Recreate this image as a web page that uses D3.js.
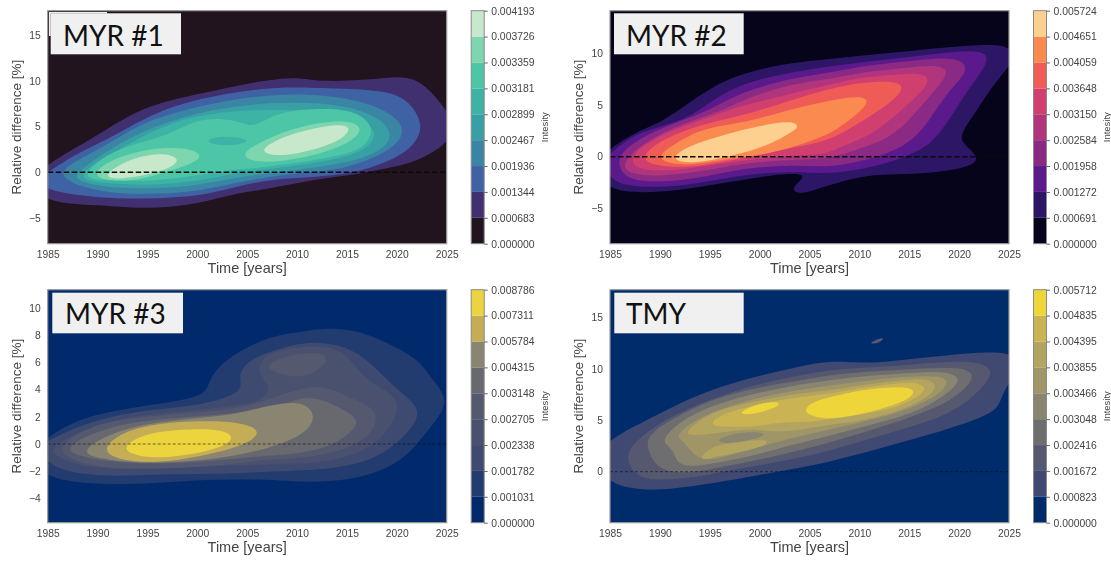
<!DOCTYPE html>
<html>
<head>
<meta charset="utf-8">
<script src="https://cdn.jsdelivr.net/npm/d3@7"></script>
<style>
  body { margin: 0; background: #fff; }
  svg { display: block; filter: blur(0.45px); }
  text { font-family: "Liberation Sans", Arial, sans-serif; }
</style>
</head>
<body>
<script>
// ---- values ----
var yearTicks = [1985, 1990, 1995, 2000, 2005, 2010, 2015, 2020, 2025];

var myr1YTicks = [-5, 0, 5, 10, 15];
var myr2YTicks = [-5, 0, 5, 10];
var myr3YTicks = [-4, -2, 0, 2, 4, 6, 8, 10];
var tmyYTicks = [0, 5, 10, 15];

var myr1Legend = ["0.000000", "0.000683", "0.001344", "0.001936", "0.002467", "0.002899", "0.003181", "0.003359", "0.003726", "0.004193"];
var myr2Legend = ["0.000000", "0.000691", "0.001272", "0.001958", "0.002584", "0.003150", "0.003648", "0.004059", "0.004651", "0.005724"];
var myr3Legend = ["0.000000", "0.001031", "0.001782", "0.002338", "0.002705", "0.003148", "0.004315", "0.005784", "0.007311", "0.008786"];
var tmyLegend = ["0.000000", "0.000823", "0.001672", "0.002416", "0.003048", "0.003466", "0.003855", "0.004395", "0.004835", "0.005712"];

// contour outlines as [year, relative difference %], band = colour band of the legend
var myr1Bands = [1, 2, 3, 4, 5, 6, 5, 7, 7, 8, 8];
var myr1Outlines = [
  [[1983,-1.2],[1985,1],[1989.4,3.6],[1993.5,6.6],[1997.5,8],[2001.5,8.9],[2007.2,10.2],[2010.5,10.4],[2012.2,9.9],[2017.2,10.1],[2020.5,10.6],[2022.2,10],[2023.5,8.8],[2025,6.7],[2026,5],[2025,3.2],[2023.5,2.1],[2021.5,1],[2018.9,.4],[2016.2,-.2],[2012.2,-.7],[2007.2,-1.8],[2003.5,-2.4],[2000.2,-3.4],[1996.9,-3.9],[1993.5,-3.9],[1990.2,-3.6],[1985,-3.4]],
  [[1985,0],[1987.7,1.9],[1990.2,3.2],[1993.6,5.2],[1994.6,5.8],[1997.6,7.3],[2001.6,8.4],[2007.3,9.3],[2010.6,9.3],[2017.3,9.1],[2020,8.6],[2021.6,7.3],[2022.7,5],[2021.7,2.9],[2020,1.6],[2017.3,.4],[2014,-.4],[2007.3,-.7],[2003.6,-1.7],[2000.3,-2.6],[1996,-2.9],[1992,-2.9],[1988.5,-2.6],[1985,-2],[1984,-.9]],
  [[1986.2,-.5],[1986.8,.7],[1990.2,2.5],[1994.3,5.4],[1998.3,6.7],[2001.6,7.6],[2007.3,8.6],[2013.3,8.5],[2018.3,7.3],[2020.8,5.2],[2020.4,3.4],[2018.3,1.8],[2014.2,.15],[2009.2,-.1],[2003.6,-1.2],[2000.3,-2.05],[1996,-2.4],[1992,-2.4],[1988.5,-1.7]],
  [[1987.5,-.6],[1988.4,.3],[1990.2,1.8],[1994.3,4.5],[1998.3,5.9],[2001.6,6.9],[2007.3,7.7],[2013.3,7.6],[2017.3,6.6],[2019.7,4.6],[2018.9,2.5],[2015.3,1],[2009.2,.15],[2003.6,-.6],[2000.3,-1.4],[1996,-1.8],[1992,-1.7],[1989.3,-1.4]],
  [[1988.2,-.6],[1989.1,.6],[1991.2,1.8],[1995.3,4.5],[1999.3,6.1],[2003.3,6.7],[2007.3,6.9],[2013.3,6.7],[2016.5,5.8],[2018.2,4.3],[2016.9,2.3],[2013.3,1.25],[2008.3,.5],[2003.6,-.1],[2000.3,-.95],[1996,-1.4],[1992,-1.3],[1989.8,-1.1]],
  [[1988.5,-.5],[1990.1,1.4],[1992.9,2.9],[1996.7,3.9],[1998.7,5.1],[2000.7,5.9],[2003.4,5.85],[2005.2,5],[2006.4,5.4],[2008.2,6.6],[2012.2,7],[2015.2,6.9],[2017.3,5.6],[2017.6,4.1],[2016.3,2.3],[2013.2,1.6],[2009.2,.9],[2005.3,.35],[2003.6,.35],[2000.3,-.3],[1996,-.95],[1992,-.95],[1990,-.85]],
  [[2000.7,3.5],[2002.4,4],[2004.2,3.8],[2005.4,3.4],[2003.7,2.9],[2001.7,3]],
  [[1989.5,-.1],[1991.1,1.2],[1993.6,2.2],[1997,2.8],[1999.7,2.5],[2000.5,1.7],[1999.4,.9],[1996.3,-.2],[1993.6,-.95],[1990.6,-.95]],
  [[2004.1,1.9],[2006.5,3.4],[2009.3,4.7],[2012.3,5.5],[2015.6,5.7],[2016.7,4.6],[2015.1,3.1],[2012.3,2],[2009,1.25],[2006,1]],
  [[1990.6,-.5],[1992,.8],[1994.6,1.9],[1997,2.1],[1998.3,1.4],[1997.4,.5],[1995,-.3],[1992,-.8]],
  [[2006.3,2.4],[2007.8,3.5],[2010.3,4.5],[2014,5.3],[2015.4,5],[2014.9,3.9],[2012.8,2.8],[2009.8,1.95],[2007.3,1.8]]
];

var myr2Bands = [1, 2, 3, 4, 5, 6, 7, 8];
var myr2Outlines = [
  [[1983,-1.2],[1985,.9],[1988.3,2.7],[1990,3.3],[1992,4.6],[1994.4,6.2],[1996.7,7.5],[2000,8.5],[2003.4,9.1],[2007,9.45],[2013.7,10.1],[2018.8,10.6],[2023.1,10.9],[2025,10.7],[2025.6,9.5],[2024.5,8.2],[2023.1,6.5],[2021.8,4.5],[2020.4,2.6],[2020.1,1.6],[2021,.8],[2022,-.15],[2021.2,-.9],[2018.8,-1.4],[2015.4,-1.7],[2012.1,-1.7],[2009.7,-2],[2006.8,-2.8],[2005,-3.4],[2003.5,-3.6],[2003.3,-2.9],[2004.4,-2.1],[2004.2,-1.6],[2001.7,-1.7],[1996.7,-2.5],[1991.7,-3.3],[1988.3,-3.5],[1985,-3.3]],
  [[1984,-.5],[1985.1,.3],[1986.7,1.7],[1989,2.7],[1992.7,3.6],[1995,5.3],[1997.4,6.7],[2000.7,7.7],[2004,8.3],[2008,8.9],[2013.7,9.5],[2018.8,10.1],[2021.8,10.3],[2023,9.8],[2022.5,8.5],[2021.1,6.8],[2019.8,4.8],[2018.1,2.3],[2016.7,.9],[2013.7,-.4],[2010.4,-1.2],[2007,-1.7],[2003.4,-1.4],[1998.4,-1.7],[1993.4,-2.7],[1989.3,-3],[1986.3,-2.8],[1985,-2]],
  [[1985.7,-.8],[1986.2,.7],[1989.7,2.7],[1994.7,4.3],[1997.4,5.9],[2001.4,7.2],[2004.7,7.8],[2008,8.3],[2010.4,8.8],[2015.4,9.3],[2018.4,9.6],[2020.5,9.3],[2020.8,8.2],[2019.4,6.8],[2017.8,4.8],[2016.4,2.6],[2014.4,.9],[2011.1,-.25],[2007,-1.1],[2003.4,-.75],[1998.4,-1.1],[1993.4,-2.2],[1989.3,-2.5],[1986.7,-2.2]],
  [[1986.2,-1.1],[1987,.4],[1990.7,2.7],[1996,4.3],[1998.7,5.7],[2002.7,6.9],[2006,7.4],[2008,7.7],[2010.4,8.2],[2014.7,8.6],[2017.4,8.9],[2018.9,8.5],[2018.5,7.4],[2016.7,5.5],[2015,3.5],[2013,1.8],[2010.4,.9],[2007,-.25],[2003.4,-.25],[1998.4,-.6],[1993.4,-1.55],[1989.7,-1.9],[1987.3,-1.7]],
  [[1987,-.3],[1988.2,1.1],[1991.4,2.7],[1995,3.8],[1998,4.9],[2000,5.3],[2003.4,6.2],[2008,7.2],[2010.4,7.7],[2014.1,8],[2016.5,8.1],[2017.1,7.3],[2015.8,5.8],[2013.7,4.1],[2011.4,2.2],[2008.7,1.2],[2007,.4],[2006,.2],[2001.7,.05],[1996.7,-.6],[1992.7,-1.2],[1989.3,-1.4],[1987.7,-1.1]],
  [[1988.1,-.3],[1989.2,1.1],[1992.7,2.7],[1996.4,3.6],[2000,4.45],[2004,5.75],[2008,6.8],[2010.4,7.2],[2013.4,7.35],[2014.6,6.8],[2013.5,5.5],[2011.4,4.1],[2008.7,2.5],[2006.7,1.5],[2003.4,.9],[2000,.2],[1996,-.6],[1992.7,-1.05],[1989.7,-.9]],
  [[1989.8,0],[1990.9,.9],[1994,2.7],[1997.4,3.15],[2000,3.7],[2004,4.8],[2008,5.65],[2010.4,5.85],[2011,5.3],[2009.8,4.1],[2007.7,2.6],[2006,1.8],[2002.7,.7],[1999.4,.05],[1995.7,-.4],[1992.7,-.84],[1990.7,-.6]],
  [[1991.1,-.15],[1992.6,.9],[1995,1.7],[1997.4,2.4],[2000,2.95],[2001.7,3.3],[2003.5,3.4],[2004,2.8],[2002.8,2.2],[2001.7,1.5],[1998.7,.4],[1995,-.4],[1992.4,-.65]]
];

var myr3Bands = [1, 2, 3, 4, 4, 5, 6, 7, 8];
var myr3Outlines = [
  [[1983,-1],[1985,.6],[1988.5,2],[1993.6,2.7],[1998.6,3.2],[2001,3.7],[2001.2,4.9],[2003,6.3],[2005.3,7.2],[2007.3,7.9],[2010.6,8.3],[2014,8.6],[2017.3,8.1],[2020.7,6.8],[2022.3,6.1],[2023.7,4.6],[2025.3,3.2],[2023.7,1.5],[2022,0],[2020.7,-1.1],[2017.3,-2.4],[2012.3,-2.9],[2007.3,-2.6],[2003.6,-2.6],[1998.6,-2.7],[1993.6,-3],[1988.5,-2.9],[1985,-2.5]],
  [[1984,-.2],[1985,.2],[1988.5,1.5],[1993.6,2.4],[1998.6,2.7],[2001.6,3.1],[2003.6,3.6],[2004.6,4.2],[2004,5.2],[2005.6,6.4],[2008.3,7],[2010.6,7.5],[2014,7.4],[2016.3,6.6],[2017.7,5.7],[2020,4],[2022.4,2.7],[2021.8,1.4],[2020,0],[2017.3,-1.3],[2013,-1.9],[2007.3,-2],[2003.6,-2.2],[1997,-2.2],[1992,-2.4],[1987.7,-2.2],[1985,-1.5]],
  [[1985.3,-.1],[1990.2,1.6],[1995.2,2.2],[2000.2,2.5],[2005.3,2.9],[2007,3.5],[2007.3,4.3],[2005.8,5.4],[2006.8,6.6],[2009.3,7.1],[2012.3,7.2],[2014.9,6.9],[2016.6,4.7],[2020,3.6],[2020.2,2.3],[2018.6,.4],[2016,-.8],[2012.3,-1.4],[2007.3,-1.5],[2000.2,-1.65],[1993.2,-1.95],[1988.2,-1.65],[1985.6,-.9]],
  [[1986,-.2],[1988.5,1],[1991.2,1.7],[1997,2.2],[2003.6,2.45],[2007.3,3.3],[2010.6,4.2],[2013,4.2],[2014.7,3.6],[2017.3,2.8],[2018.1,2.05],[2017.6,.9],[2015.6,-.3],[2010.6,-1.1],[2007.3,-1.1],[2003.6,-1.5],[1997,-1.85],[1990.3,-1.8],[1987,-1.1]],
  [[2007,5.9],[2009.3,6.6],[2012.3,6.8],[2013.3,6.2],[2011.7,5.1],[2009.3,4.85],[2007.1,5.5]],
  [[1986.8,-.4],[1988.5,.5],[1992,1.45],[1997,1.9],[2002,2.1],[2008.3,2.75],[2010.6,3.5],[2012.5,3.3],[2014.8,2.5],[2016.3,1.75],[2015.4,.8],[2013.3,-.2],[2010.3,-.7],[2007.3,-.85],[2003.6,-1.1],[1997,-1.5],[1991.2,-1.35],[1988,-.85]],
  [[1988.3,-.65],[1990.2,.4],[1993.6,1.35],[1998.6,1.85],[2003.6,2.1],[2007.3,2.9],[2010.7,3.2],[2012,2],[2010.8,.7],[2007.3,-.3],[2003.6,-.9],[1998.6,-1.35],[1993.6,-1.4],[1990.3,-1.1]],
  [[1990.2,-.45],[1992.5,.95],[1996.3,1.55],[2000.3,1.7],[2004.3,1.65],[2006.8,.9],[2004.3,-.25],[2000.3,-.9],[1996.3,-1.4],[1992.3,-1.25]],
  [[1992.5,-.2],[1994.5,.75],[1998.6,1.1],[2002.6,1.1],[2003.9,.4],[2002,-.4],[1998.3,-.9],[1995.3,-1.05],[1993.3,-.75]]
];

var tmyBands = [1, 2, 2, 3, 4, 5, 4, 6, 6, 7, 8, 8];
var tmyOutlines = [
  [[1983,1],[1985,3.2],[1988.3,4.8],[1993.4,7.4],[1998.4,9],[2003.4,10.1],[2007,10.8],[2009.7,10.6],[2012,10.6],[2015.4,11],[2018.8,11.3],[2022.1,11.6],[2024.1,11.6],[2025.3,11.4],[2026,10],[2025,8.7],[2024.3,7.4],[2023.9,6.1],[2022.1,5.2],[2018.8,4.1],[2013.7,2.7],[2007,.9],[2001.7,0],[1996.7,-.9],[1993.4,-1.4],[1990,-1.8],[1987.3,-1.7],[1985,-1.1]],
  [[2011,12.5],[2011.7,12.85],[2012.5,13.05],[2012.2,12.65],[2011.5,12.4]],
  [[1986.7,1.8],[1987.6,3],[1990,4.8],[1993.4,6.4],[1998.4,8.2],[2003.4,9.3],[2008,10],[2010.4,10.1],[2015.4,10.4],[2018.8,10.7],[2021.8,10.7],[2023.3,10],[2023,8.9],[2021.4,7.3],[2019.8,6.1],[2017.1,4.9],[2012.1,3.5],[2007,2],[2001.7,.9],[1996.7,.1],[1993.4,-.6],[1990,-.85],[1988,-.6],[1986.9,.5]],
  [[1988.6,2.75],[1989.1,3.8],[1991.7,5.4],[1995,6.9],[1998.4,7.9],[2003.4,8.8],[2008,9.5],[2010.4,9.7],[2015.4,10],[2018.8,10.1],[2020.8,10],[2021.6,9.2],[2020.4,7.9],[2018.8,6.7],[2016,5.6],[2012.1,4.3],[2007,2.8],[2001.7,1.5],[1996.7,.55],[1993.4,-.1],[1990.7,-.1],[1989.2,1]],
  [[1990.3,2.75],[1990.6,3.7],[1993.4,5.8],[1998.4,7.4],[2003.4,8.4],[2008,9],[2010.4,9.3],[2015.4,9.6],[2018.4,9.8],[2020.1,9.2],[2019.7,8.3],[2017.8,6.9],[2015.4,5.7],[2012.1,4.8],[2007,3.5],[2003.4,2.65],[2000,1.7],[1996,.9],[1992.7,.4],[1991.6,1],[1991.4,2.1]],
  [[1991.5,3.4],[1993.4,5.1],[1998.4,6.9],[2003.4,7.9],[2008,8.5],[2010.4,8.8],[2015.4,9.3],[2018,9.3],[2019.1,8.8],[2018.1,7.6],[2016.1,6.5],[2012.1,5.2],[2007,4.1],[2003.4,3.3],[2000.7,2.65],[1996.7,1.5],[1994.4,1],[1993.2,1.8],[1992.3,3.1]],
  [[1995.5,3.1],[1997.7,3.8],[2000.2,3.9],[2000.7,3.5],[1998.7,3],[1996.4,2.65]],
  [[1992.7,4.05],[1995,5.8],[1998.4,6.6],[2003.4,7.6],[2008,8],[2010.4,8.5],[2015.4,9],[2017,9],[2017.9,8.3],[2016.8,7.2],[2014.7,6.1],[2010.4,4.9],[2007,4.6],[2003.4,3.9],[2000.7,3.9],[1998.7,4.2],[1995,3.6],[1992.7,3.5]],
  [[1994,1.5],[1995.7,2.7],[1998.4,2.9],[2000.4,3.2],[2001.2,2.75],[1998.7,2],[1995.7,1.5],[1994.4,1.1]],
  [[1994.8,4.7],[1996.7,5.8],[2000,6.6],[2003.4,7.2],[2008,7.7],[2010.4,8.2],[2014.7,8.7],[2016,8.6],[2016.8,8.1],[2015.8,7.2],[2013.7,6.2],[2010.4,5.6],[2007,5.1],[2005,4.8],[2001.7,4.8],[2000,4.4],[1996,4.3]],
  [[1997.8,5.7],[1999.7,6.6],[2001.7,6.85],[2002.2,6.5],[2000.7,5.9],[1998.7,5.5]],
  [[2004.5,6.2],[2005.7,6.95],[2008,7.45],[2010.4,8],[2014.7,8.35],[2015.7,7.8],[2014.8,6.9],[2012.1,6.05],[2009,5.35],[2007,5.15],[2006.1,5.2],[2004.7,5.6]]
];

// ---- styles ----
var makoColors = ["#21141f", "#41306f", "#3f62a4", "#3a85a3", "#38a0a5", "#3db3a5", "#4cc6a6", "#7dd6ae", "#c8e8cc"];
var magmaColors = ["#05041a", "#2e1667", "#5a1a8b", "#8a2a84", "#b0357c", "#d13f6f", "#ef5c56", "#fb8a50", "#fdd08f"];
var cividis3Colors = ["#002a6b", "#223c70", "#3f4a70", "#4a516f", "#55596f", "#68686f", "#8a8570", "#c5ad55", "#ecd43e"];
var cividis4Colors = ["#002c6c", "#3f4971", "#565870", "#6e6d6f", "#8a8570", "#9f9566", "#b3a45f", "#c9b353", "#edd53a"];

var svg = d3.select("body").append("svg")
  .attr("width", 1111)
  .attr("height", 561);

var outline = d3.line()
  .curve(d3.curveBasisClosed);

var panels = [
  { id: "p1", left: 47.7, top: 10.7, bottom: 243.7, yDomain: [-7.83, 17.7], yTicks: myr1YTicks, legend: myr1Legend, colors: makoColors,
    bands: myr1Bands, outlines: myr1Outlines, name: "MYR #1", nameX: 63, nameY: 46, box: [50.7, 13.3, 130.3, 41], dash: [1.7, "5.5,2.5", 1] },
  { id: "p2", left: 610, top: 10.7, bottom: 243.7, yDomain: [-8.42, 14.13], yTicks: myr2YTicks, legend: myr2Legend, colors: magmaColors,
    bands: myr2Bands, outlines: myr2Outlines, name: "MYR #2", nameX: 626, nameY: 46, box: [614, 13.3, 129.7, 41], dash: [1.5, "5.5,2.5", 1] },
  { id: "p3", left: 47.7, top: 289.7, bottom: 522.7, yDomain: [-5.79, 11.35], yTicks: myr3YTicks, legend: myr3Legend, colors: cividis3Colors,
    bands: myr3Bands, outlines: myr3Outlines, name: "MYR #3", nameX: 65, nameY: 324, box: [52.3, 292.7, 130.7, 40.6], dash: [1, "3,2", 0.55] },
  { id: "p4", left: 610, top: 289.7, bottom: 522.7, yDomain: [-4.96, 17.69], yTicks: tmyYTicks, legend: tmyLegend, colors: cividis4Colors,
    bands: tmyBands, outlines: tmyOutlines, name: "TMY", nameX: 626, nameY: 324, box: [614.3, 292.7, 129.4, 40.6], dash: [1, "3,2", 0.55] }
];

panels.forEach(drawPanel);

// sliver of the pasted box left above the first panel
svg.append("path")
  .attr("d", "M49,12H107V13.5H50.7V36H49Z")
  .attr("fill", "#f0f0f0");

function drawPanel(p) {
  var width = 399;
  var x = d3.scaleLinear().domain([1985, 2025]).range([p.left, p.left + width]);
  var y = d3.scaleLinear().domain(p.yDomain).range([p.bottom, p.top]);
  var g = svg.append("g");

  g.append("clipPath").attr("id", "clip-" + p.id)
    .append("rect")
    .attr("x", p.left).attr("y", p.top)
    .attr("width", width).attr("height", p.bottom - p.top);

  // background band
  g.append("rect")
    .attr("x", p.left).attr("y", p.top)
    .attr("width", width).attr("height", p.bottom - p.top)
    .attr("fill", p.colors[0]);

  // filled contours
  g.append("g").attr("clip-path", "url(#clip-" + p.id + ")")
    .selectAll("path")
    .data(p.outlines)
    .enter()
    .append("path")
    .attr("d", function(d) {
      return outline(d.map(function(c) { return [x(c[0]), y(c[1])]; }));
    })
    .attr("fill", function(d, i) { return p.colors[p.bands[i]]; });

  // zero line
  g.append("line")
    .attr("x1", x(1985)).attr("x2", x(2025))
    .attr("y1", y(0)).attr("y2", y(0))
    .attr("stroke", "#0a0a0a")
    .attr("stroke-width", p.dash[0])
    .attr("stroke-dasharray", p.dash[1])
    .attr("opacity", p.dash[2]);

  // frame
  g.append("rect")
    .attr("x", p.left).attr("y", p.top)
    .attr("width", width).attr("height", p.bottom - p.top)
    .attr("fill", "none")
    .attr("stroke", "#9a9a9a")
    .attr("stroke-width", 1.2);

  // axes
  var xAxis = g.append("g")
    .attr("transform", "translate(0," + p.bottom + ")")
    .call(d3.axisBottom(x).tickValues(yearTicks).tickFormat(d3.format("d")).tickSize(0).tickPadding(7));
  var yAxis = g.append("g")
    .attr("transform", "translate(" + p.left + ",0)")
    .call(d3.axisLeft(y).tickValues(p.yTicks).tickSize(0).tickPadding(7));
  xAxis.select(".domain").remove();
  yAxis.select(".domain").remove();
  g.selectAll(".tick text")
    .attr("fill", "#444")
    .style("font-size", "10.3px")
    .style("font-family", '"Liberation Sans", Arial, sans-serif');

  // axis labels
  g.append("text")
    .attr("x", p.left + 199.5)
    .attr("y", p.bottom + 29.5)
    .attr("text-anchor", "middle")
    .attr("fill", "#444")
    .style("font-size", "14.5px")
    .text("Time [years]");
  g.append("text")
    .attr("transform", "translate(" + (p.left - 27) + "," + ((p.top + p.bottom) / 2) + ") rotate(-90)")
    .attr("text-anchor", "middle")
    .attr("fill", "#444")
    .style("font-size", "13.5px")
    .text("Relative difference [%]");

  // colour bar, ticks are equally spaced
  var barLeft = p.left + 423.5;
  var barW = 13;
  var barScale = d3.scalePoint().domain(p.legend).range([p.bottom, p.top]);
  g.append("g").selectAll("rect")
    .data(p.colors)
    .enter()
    .append("rect")
    .attr("x", barLeft)
    .attr("y", function(d, i) { return barScale(p.legend[i + 1]); })
    .attr("width", barW)
    .attr("height", function(d, i) { return barScale(p.legend[i]) - barScale(p.legend[i + 1]); })
    .attr("fill", function(d) { return d; });
  g.append("rect")
    .attr("x", barLeft).attr("y", p.top)
    .attr("width", barW).attr("height", p.bottom - p.top)
    .attr("fill", "none")
    .attr("stroke", "#8a8a8a");
  var barAxis = g.append("g")
    .attr("transform", "translate(" + (barLeft + barW) + ",0)")
    .call(d3.axisRight(barScale).tickSize(3.5).tickPadding(3.5));
  barAxis.select(".domain").remove();
  barAxis.selectAll("line").attr("stroke", "#666");
  barAxis.selectAll("text")
    .attr("fill", "#444")
    .style("font-size", "10.4px")
    .style("font-family", '"Liberation Sans", Arial, sans-serif');
  g.append("text")
    .attr("transform", "translate(" + (p.left + 500) + "," + ((p.top + p.bottom) / 2) + ") rotate(-90)")
    .attr("text-anchor", "middle")
    .attr("fill", "#444")
    .style("font-size", "9.5px")
    .text("Intesity");

  // pasted name box
  g.append("rect")
    .attr("x", p.box[0]).attr("y", p.box[1])
    .attr("width", p.box[2]).attr("height", p.box[3])
    .attr("fill", "#f0f0f0");
  g.append("text")
    .attr("x", p.nameX).attr("y", p.nameY)
    .attr("fill", "#111")
    .style("font-family", "Lato, sans-serif")
    .style("font-size", "28px")
    .text(p.name);
}
</script>
</body>
</html>
